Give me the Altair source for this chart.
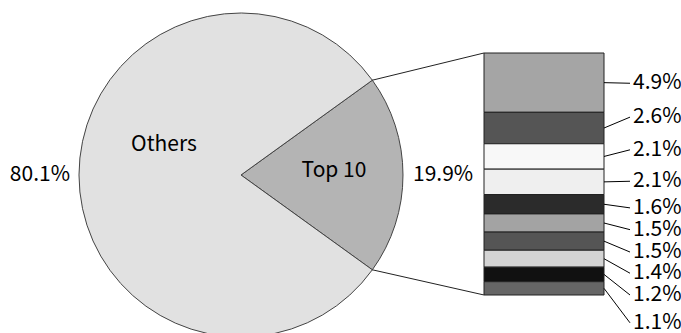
import math
import altair as alt
import pandas as pd

# Share of the whole: the ten largest versus everything else
groups = ["Top 10", "Others"]
group_share = [19.9, 80.1]
group_fill = ["#b4b4b4", "#e1e1e1"]

# Breakdown of the Top 10, largest first
ranks = ["1", "2", "3", "4", "5", "6", "7", "8", "9", "10"]
rank_share = [4.9, 2.6, 2.1, 2.1, 1.6, 1.5, 1.5, 1.4, 1.2, 1.1]
rank_fill = ["#a5a5a5", "#555555", "#f8f8f8", "#efefef", "#2b2b2b",
             "#a3a3a3", "#555555", "#d4d4d4", "#111111", "#666666"]
# where each breakdown label sits along the bar, in percentage points
label_at = [2.5, 5.3, 8.0, 10.6, 12.8, 14.6, 16.45, 18.2, 20.0, 22.3]

FONT = "Noto Sans CJK JP"
FS = 21

# layout of the pie and the exploded bar (pixels)
CX, CY, R = 241, 175, 162
BAR_L, BAR_R, BAR_T, BAR_B = 484, 604, 53, 295

# rotate the pie so the Top 10 slice is centred at three o'clock
half = group_share[0] / sum(group_share) * math.pi
start = math.pi / 2 - half

pie_df = pd.DataFrame({
    "group": groups,
    "share": group_share,
    "ord": list(range(len(groups))),
    "pct": [f"{v:.1f}%" for v in group_share],
})

theta = alt.Theta("share:Q", stack=True,
                  scale=alt.Scale(range=[start, start + 2 * math.pi]))
pie_base = alt.Chart(pie_df).encode(
    theta=theta,
    order=alt.Order("ord:Q"),
    x=alt.value(CX),
    y=alt.value(CY),
)

pie = pie_base.mark_arc(outerRadius=R, stroke="#444444", strokeWidth=1).encode(
    color=alt.Color("group:N", scale=alt.Scale(domain=groups, range=group_fill), legend=None)
)

txt = dict(font=FONT, fontSize=FS, color="#000000", baseline="middle")
others_pct = pie_base.mark_text(radius=R + 9, align="right", **txt).encode(
    text=alt.condition(alt.datum.group == "Others", "pct:N", alt.value(""))
)
top_pct = pie_base.mark_text(radius=R + 10, align="left", **txt).encode(
    text=alt.condition(alt.datum.group == "Top 10", "pct:N", alt.value(""))
)
others_name = pie_base.mark_text(radius=77, dy=-30, align="center", **txt).encode(
    text=alt.condition(alt.datum.group == "Others", "group:N", alt.value(""))
)
top_name = pie_base.mark_text(radius=93, dy=-4, align="center", **txt).encode(
    text=alt.condition(alt.datum.group == "Top 10", "group:N", alt.value(""))
)

# stacked bar breaking the Top 10 down
ends = []
acc = 0.0
for v in rank_share:
    acc += v
    ends.append(round(acc, 4))
starts = [round(e - v, 4) for e, v in zip(ends, rank_share)]
total = ends[-1]

bar_df = pd.DataFrame({
    "rank": ranks,
    "share": rank_share,
    "start": starts,
    "end": ends,
    "mid": [(s + e) / 2 for s, e in zip(starts, ends)],
    "label_at": label_at,
    "pct": [f"{v:.1f}%" for v in rank_share],
})

yscale = alt.Scale(domain=[0, total], range=[BAR_T, BAR_B])

bar = alt.Chart(bar_df).mark_bar(stroke="#222222", strokeWidth=1).encode(
    x=alt.value(BAR_L),
    x2=alt.value(BAR_R),
    y=alt.Y("start:Q", scale=yscale, axis=None),
    y2="end:Q",
    color=alt.Color("rank:N", scale=alt.Scale(domain=ranks, range=rank_fill), legend=None),
)

leaders = alt.Chart(bar_df).mark_rule(color="#000000", strokeWidth=1).encode(
    x=alt.value(BAR_R),
    x2=alt.value(BAR_R + 26),
    y=alt.Y("mid:Q", scale=yscale, axis=None),
    y2="label_at:Q",
)

bar_labels = alt.Chart(bar_df).mark_text(align="left", dx=0, **txt).encode(
    x=alt.value(BAR_R + 29),
    y=alt.Y("label_at:Q", scale=yscale, axis=None),
    text="pct:N",
)

# lines joining the Top 10 slice to the bar
ux, uy = CX + R * math.cos(half), CY - R * math.sin(half)
lx, ly = CX + R * math.cos(half), CY + R * math.sin(half)
conn_df = pd.DataFrame({"edge": ["top", "bottom"]})
conn_top = alt.Chart(conn_df.head(1)).mark_rule(color="#222222", strokeWidth=1).encode(
    x=alt.value(ux), y=alt.value(uy), x2=alt.value(BAR_L), y2=alt.value(BAR_T)
)
conn_bot = alt.Chart(conn_df.tail(1)).mark_rule(color="#222222", strokeWidth=1).encode(
    x=alt.value(lx), y=alt.value(ly), x2=alt.value(BAR_L), y2=alt.value(BAR_B)
)

chart = alt.layer(
    pie, others_pct, top_pct, others_name, top_name,
    conn_top, conn_bot, bar, leaders, bar_labels,
).resolve_scale(
    color="independent"
).properties(
    width=681, height=333, padding=0,
    autosize=alt.AutoSizeParams(type="none"),
    background="#ffffff",
).configure_view(stroke=None)

chart.save("out.html", embed_options={"renderer": "svg", "actions": False})
